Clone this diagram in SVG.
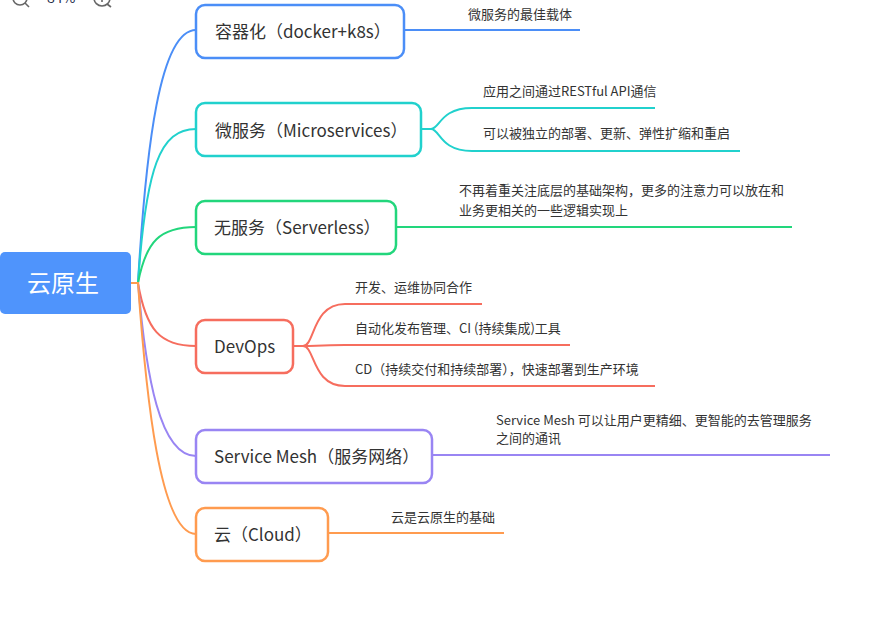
<svg xmlns="http://www.w3.org/2000/svg" width="871" height="632" viewBox="0 0 871 632">
<style>
.node{fill:#fff;stroke-width:2.5}
.nt{font-family:"Noto Sans CJK SC","Noto Sans",sans-serif;font-size:17px;fill:#333}
.lt{font-family:"Noto Sans CJK SC","Noto Sans",sans-serif;font-size:13px;fill:#333}
.c{fill:none;stroke-width:2}
.tb{fill:none;stroke:#666;stroke-width:1.6}
</style>
<rect width="871" height="632" fill="#fff"/>
<g id="toolbar">
<circle class="tb" cx="20" cy="-2" r="7"/>
<line class="tb" x1="25" y1="3" x2="29" y2="7"/>
<text x="47" y="3" font-family="Noto Sans CJK SC,sans-serif" font-size="14" fill="#1f2d4d">84%</text>
<circle class="tb" cx="102" cy="-2" r="8"/>
<line class="tb" x1="102" y1="-4" x2="102" y2="2"/>
<line class="tb" x1="107" y1="4" x2="111" y2="7"/>
</g>
<g id="connectors">
<path class="c" stroke="#4b8ef7" d="M131,283 H138 C146,146 160,30 196,30"/>
<path class="c" stroke="#21d1cd" d="M131,283 H138 C146,167 160,129 196,129"/>
<path class="c" stroke="#22d67c" d="M131,283 H138 C146,241 160,227 196,227"/>
<path class="c" stroke="#f66d5e" d="M131,283 H138 C146,330 160,346 196,346"/>
<path class="c" stroke="#9985f3" d="M131,283 H138 C146,377 160,456 196,456"/>
<path class="c" stroke="#ff9b4f" d="M131,283 H138 C146,396 160,534 196,534"/>
<path class="c" stroke="#4b8ef7" d="M404,30 H580"/>
<path class="c" stroke="#21d1cd" d="M421,129 H431 C440,129 440,108 472,108 H655"/>
<path class="c" stroke="#21d1cd" d="M421,129 H431 C440,129 440,151 472,151 H740"/>
<path class="c" stroke="#22d67c" d="M396,227 H792"/>
<path class="c" stroke="#f66d5e" d="M293,346 H303 C315,346 312,304 345,304 H482"/>
<path class="c" stroke="#f66d5e" d="M293,346 H303 C315,346 320,345 345,345 H570"/>
<path class="c" stroke="#f66d5e" d="M293,346 H303 C315,346 312,386 345,386 H655"/>
<path class="c" stroke="#9985f3" d="M432,455 H830"/>
<path class="c" stroke="#ff9b4f" d="M328,533 H504"/>
</g>
<g id="root">
<rect x="0" y="252" width="131" height="62" rx="5" fill="#4f94fc"/>
<text x="63" y="292" text-anchor="middle" font-family="Noto Sans CJK SC,sans-serif" font-size="24" fill="#fff">云原生</text>
</g>
<g id="n-container">
<rect class="node" x="196" y="5" width="208" height="53" rx="9" stroke="#4b8ef7"/>
<text class="nt" x="215" y="38">容器化（docker+k8s）</text>
<text class="lt" x="468" y="19">微服务的最佳载体</text>
</g>
<g id="n-micro">
<rect class="node" x="196" y="103" width="225" height="53" rx="9" stroke="#21d1cd"/>
<text class="nt" x="215" y="137">微服务（Microservices）</text>
<text class="lt" x="483" y="96">应用之间通过RESTful API通信</text>
<text class="lt" x="483" y="138">可以被独立的部署、更新、弹性扩缩和重启</text>
</g>
<g id="n-serverless">
<rect class="node" x="196" y="201" width="200" height="53" rx="9" stroke="#22d67c"/>
<text class="nt" x="214" y="234">无服务（Serverless）</text>
<text class="lt" x="459" y="195">不再着重关注底层的基础架构，更多的注意力可以放在和</text>
<text class="lt" x="459" y="215">业务更相关的一些逻辑实现上</text>
</g>
<g id="n-devops">
<rect class="node" x="196" y="320" width="97" height="53" rx="9" stroke="#f66d5e"/>
<text class="nt" x="214" y="353">DevOps</text>
<text class="lt" x="355" y="292">开发、运维协同合作</text>
<text class="lt" x="355" y="333">自动化发布管理、CI (持续集成)工具</text>
<text class="lt" x="355" y="374">CD（持续交付和持续部署），快速部署到生产环境</text>
</g>
<g id="n-mesh">
<rect class="node" x="196" y="430" width="236" height="53" rx="9" stroke="#9985f3"/>
<text class="nt" x="214" y="463">Service Mesh（服务网络）</text>
<text class="lt" x="496" y="425">Service Mesh 可以让用户更精细、更智能的去管理服务</text>
<text class="lt" x="496" y="443">之间的通讯</text>
</g>
<g id="n-cloud">
<rect class="node" x="196" y="508" width="132" height="53" rx="9" stroke="#ff9b4f"/>
<text class="nt" x="214" y="541">云（Cloud）</text>
<text class="lt" x="391" y="522">云是云原生的基础</text>
</g>
</svg>
